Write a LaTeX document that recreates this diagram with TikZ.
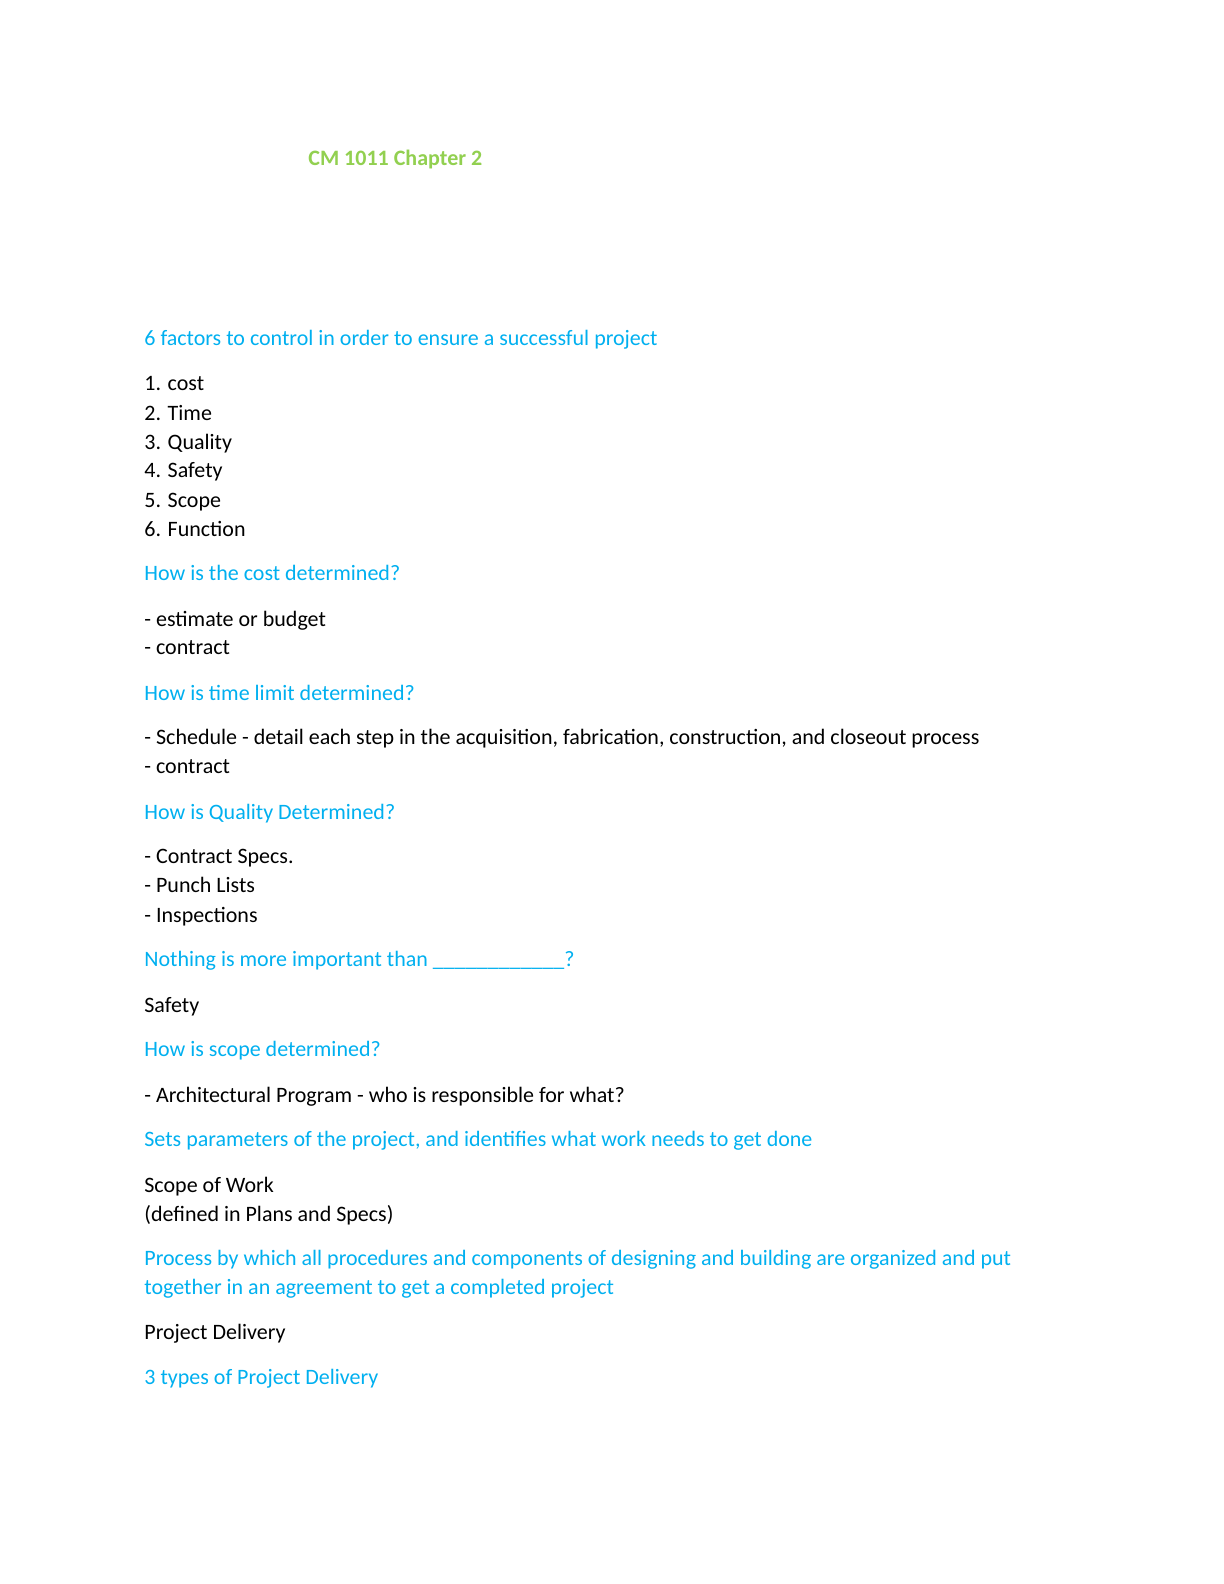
\documentclass[tikz,border=0pt]{standalone}
\usepackage{fontspec}
\setmainfont{Carlito}
\definecolor{hblue}{HTML}{00B0F0}
\definecolor{hgreen}{HTML}{92D050}
\tikzset{
  txt/.style={anchor=base west, inner sep=0pt, font=\fontsize{11}{13}\selectfont, text=black},
  head/.style={txt, text=hblue},
  ttl/.style={txt, text=hgreen, font=\fontsize{11}{13}\selectfont\bfseries}
}
\begin{document}
\begin{tikzpicture}[x=0.5pt,y=-0.5pt]
\useasboundingbox[fill=white] (0,0) rectangle (1224,1584);
\node[ttl] (title) at (308,165) {CM 1011 Chapter 2};
\node[head] (h1) at (144,345) {6 factors to control in order to ensure a successful project};
\node[txt] (f1) at (144,390) {1. cost};
\node[txt] (f2) at (144,420) {2. Time};
\node[txt] (f3) at (144,449) {3. Quality};
\node[txt] (f4) at (144,477) {4. Safety};
\node[txt] (f5) at (144,507) {5. Scope};
\node[txt] (f6) at (144,536) {6. Function};
\node[head] (h2) at (144,580) {How is the cost determined?};
\node[txt] (c1) at (144,626) {- estimate or budget};
\node[txt] (c2) at (144,654) {- contract};
\node[head] (h3) at (144,700) {How is time limit determined?};
\node[txt] (t1) at (144,744) {- Schedule - detail each step in the acquisition, fabrication, construction, and closeout process};
\node[txt] (t2) at (144,773) {- contract};
\node[head] (h4) at (144,819) {How is Quality Determined?};
\node[txt] (q1) at (144,863) {- Contract Specs.};
\node[txt] (q2) at (144,892) {- Punch Lists};
\node[txt] (q3) at (144,922) {- Inspections};
\node[head] (h5) at (144,966) {Nothing is more important than \_\_\_\_\_\_\_\_\_\_\_\_?};
\node[txt] (s1) at (144,1012) {Safety};
\node[head] (h6) at (144,1056) {How is scope determined?};
\node[txt] (a1) at (144,1102) {- Architectural Program - who is responsible for what?};
\node[head] (h7) at (144,1146) {Sets parameters of the project, and identifies what work needs to get done};
\node[txt] (w1) at (144,1192) {Scope of Work};
\node[txt] (w2) at (144,1221) {(defined in Plans and Specs)};
\node[head] (h8a) at (144,1265) {Process by which all procedures and components of designing and building are organized and put};
\node[head] (h8b) at (144,1294) {together in an agreement to get a completed project};
\node[txt] (p1) at (144,1339) {Project Delivery};
\node[head] (h9) at (144,1384) {3 types of Project Delivery};
\end{tikzpicture}
\end{document}
